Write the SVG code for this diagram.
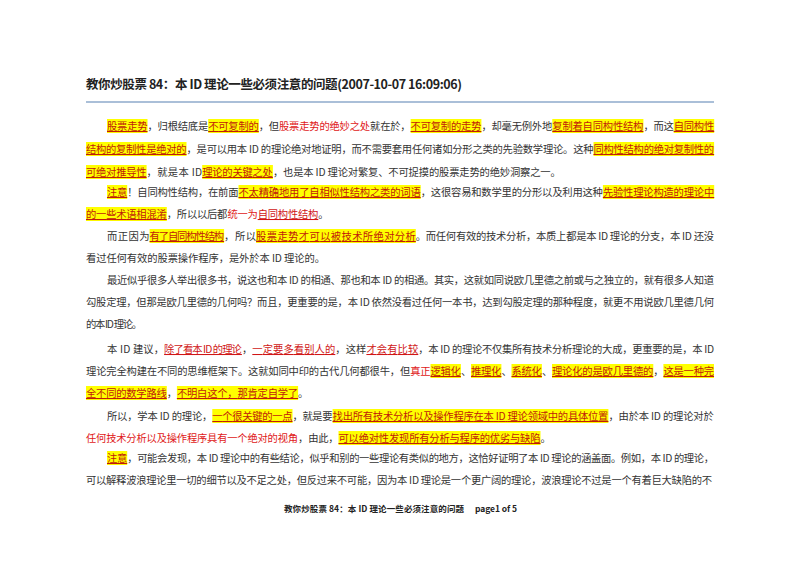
<svg xmlns="http://www.w3.org/2000/svg" width="800" height="566" viewBox="0 0 800 566">
<style>
text{font-family:"Noto Sans CJK SC","Liberation Sans",sans-serif;font-size:10.3px;fill:#333}
.h{fill:#c01a0a;text-decoration:underline}
.r{fill:#e01818}
.ru{fill:#d01515;text-decoration:underline}
.t{font-size:12.5px;font-weight:bold;fill:#222}
.f{font-size:8.5px;font-weight:bold;fill:#222}
rect.y{fill:#ffff00}
</style>
<rect width="800" height="566" fill="#fff"/>
<g id="title"><text class="t" x="86" y="89" textLength="376">教你炒股票 84：本 ID 理论一些必须注意的问题(2007-10-07 16:09:06)</text>
<line x1="86" y1="102" x2="714" y2="102" stroke="#8eaacb" stroke-width="1.5"/></g>
<g id="hl">
<rect class="y" x="107" y="119" width="40.5" height="14"/>
<rect class="y" x="208.2" y="119" width="50.6" height="14"/>
<rect class="y" x="410.6" y="119" width="70.8" height="14"/>
<rect class="y" x="552.3" y="119" width="91.1" height="14"/>
<rect class="y" x="673.7" y="119" width="40.5" height="14"/>
<rect class="y" x="86" y="142" width="100.5" height="14"/>
<rect class="y" x="593.5" y="142" width="120.6" height="14"/>
<rect class="y" x="86" y="165" width="60.6" height="14"/>
<rect class="y" x="202.2" y="165" width="70.7" height="14"/>
<rect class="y" x="107" y="185" width="20.2" height="14"/>
<rect class="y" x="238.5" y="185" width="182.2" height="14"/>
<rect class="y" x="602.9" y="185" width="111.3" height="14"/>
<rect class="y" x="86" y="207" width="80.8" height="14"/>
<rect class="y" x="149.6" y="229" width="74.5" height="14"/>
<rect class="y" x="256.1" y="229" width="159.7" height="14"/>
<rect class="y" x="430.5" y="364" width="30.4" height="14"/>
<rect class="y" x="471" y="364" width="30.4" height="14"/>
<rect class="y" x="511.5" y="364" width="30.4" height="14"/>
<rect class="y" x="552" y="364" width="101.3" height="14"/>
<rect class="y" x="663.4" y="364" width="50.6" height="14"/>
<rect class="y" x="86" y="386" width="80.8" height="14"/>
<rect class="y" x="176.9" y="386" width="121.2" height="14"/>
<rect class="y" x="212.3" y="409" width="80.2" height="14"/>
<rect class="y" x="332.6" y="409" width="275.8" height="14"/>
<rect class="y" x="338.5" y="431" width="202" height="14"/>
<rect class="y" x="107" y="451" width="20.2" height="14"/>
</g>
<g id="body">
<text class="h" x="107" y="130" textLength="40.5">股票走势</text>
<text x="147.5" y="130" textLength="60.7">，归根结底是</text>
<text class="h" x="208.2" y="130" textLength="50.6">不可复制的</text>
<text x="258.8" y="130" textLength="20.2">，但</text>
<text class="r" x="279" y="130" textLength="91.1">股票走势的绝妙之处</text>
<text x="370.1" y="130" textLength="40.5">就在於，</text>
<text class="h" x="410.6" y="130" textLength="70.8">不可复制的走势</text>
<text x="481.4" y="130" textLength="70.8">，却毫无例外地</text>
<text class="h" x="552.3" y="130" textLength="91.1">复制着自同构性结构</text>
<text x="643.4" y="130" textLength="30.4">，而这</text>
<text class="h" x="673.7" y="130" textLength="40.5">自同构性</text>

<text class="h" x="86" y="153" textLength="100.5">结构的复制性是绝对的</text>
<text x="186.5" y="153" textLength="407">，是可以用本 ID 的理论绝对地证明，而不需要套用任何诸如分形之类的先验数学理论。这种</text>
<text class="h" x="593.5" y="153" textLength="120.6">同构性结构的绝对复制性的</text>

<text class="h" x="86" y="176" textLength="60.6">可绝对推导性</text>
<text x="146.6" y="176" textLength="55.5">，就是本 ID </text>
<text class="h" x="202.2" y="176" textLength="70.7">理论的关键之处</text>
<text x="272.9" y="176" textLength="287.9">，也是本 ID 理论对繁复、不可捉摸的股票走势的绝妙洞察之一。</text>

<text class="h" x="107" y="196" textLength="20.2">注意</text>
<text x="127.2" y="196" textLength="111.3">！自同构性结构，在前面</text>
<text class="h" x="238.5" y="196" textLength="182.2">不太精确地用了自相似性结构之类的词语</text>
<text x="420.7" y="196" textLength="182.2">，这很容易和数学里的分形以及利用这种</text>
<text class="h" x="602.9" y="196" textLength="111.3">先验性理论构造的理论中</text>

<text class="h" x="86" y="218" textLength="80.8">的一些术语相混淆</text>
<text x="166.8" y="218" textLength="60.6">，所以以后都</text>
<text class="r" x="227.4" y="218" textLength="30.3">统一为</text>
<text class="ru" x="257.7" y="218" textLength="60.6">自同构性结构</text>
<text x="318.3" y="218">。</text>

<text x="107" y="240" textLength="42.6">而正因为</text>
<text class="h" x="149.6" y="240" textLength="74.5">有了自同构性结构</text>
<text x="224.1" y="240" textLength="32">，所以</text>
<text class="h" x="256.1" y="240" textLength="159.7">股票走势才可以被技术所绝对分析</text>
<text x="415.8" y="240" textLength="298.2">。而任何有效的技术分析，本质上都是本 ID 理论的分支，本 ID 还没</text>
<text x="86" y="262" textLength="239">看过任何有效的股票操作程序，是外於本 ID 理论的。</text>

<text x="107" y="284" textLength="607">最近似乎很多人举出很多书，说这也和本 ID 的相通、那也和本 ID 的相通。其实，这就如同说欧几里德之前或与之独立的，就有很多人知道</text>
<text x="86" y="306" textLength="628">勾股定理，但那是欧几里德的几何吗？而且，更重要的是，本 ID 依然没看过任何一本书，达到勾股定理的那种程度，就更不用说欧几里德几何</text>
<text x="86" y="328" textLength="56">的本 ID 理论。</text>

<text x="107" y="353" textLength="57.1">本 ID 建议，</text>
<text class="ru" x="164.1" y="353" textLength="77.8">除了看本 ID 的理论</text>
<text x="241.9" y="353" textLength="10.4">，</text>
<text class="ru" x="252.3" y="353" textLength="83">一定要多看别人的</text>
<text x="335.3" y="353" textLength="31.1">，这样</text>
<text class="ru" x="366.4" y="353" textLength="51.9">才会有比较</text>
<text x="418.3" y="353" textLength="295.8">，本 ID 的理论不仅集所有技术分析理论的大成，更重要的是，本 ID</text>

<text x="86" y="375" textLength="324.2">理论完全构建在不同的思维框架下。这就如同中印的古代几何都很牛，但</text>
<text class="r" x="410.2" y="375" textLength="20.3">真正</text>
<text class="h" x="430.5" y="375" textLength="30.4">逻辑化</text>
<text x="460.9" y="375" textLength="10.1">、</text>
<text class="h" x="471" y="375" textLength="30.4">推理化</text>
<text x="501.4" y="375" textLength="10.1">、</text>
<text class="h" x="511.5" y="375" textLength="30.4">系统化</text>
<text x="541.9" y="375" textLength="10.1">、</text>
<text class="h" x="552" y="375" textLength="101.3">理论化的是欧几里德的</text>
<text x="653.3" y="375" textLength="10.1">，</text>
<text class="h" x="663.4" y="375" textLength="50.6">这是一种完</text>

<text class="h" x="86" y="397" textLength="80.8">全不同的数学路线</text>
<text x="166.8" y="397" textLength="10.1">，</text>
<text class="h" x="176.9" y="397" textLength="121.2">不明白这个，那肯定自学了</text>
<text x="298.1" y="397">。</text>

<text x="107" y="420" textLength="105.3">所以，学本 ID 的理论，</text>
<text class="h" x="212.3" y="420" textLength="80.2">一个很关键的一点</text>
<text x="292.5" y="420" textLength="40.1">，就是要</text>
<text class="h" x="332.6" y="420" textLength="275.8">找出所有技术分析以及操作程序在本 ID 理论领域中的具体位置</text>
<text x="608.4" y="420" textLength="105.3">，由於本 ID 的理论对於</text>

<text class="r" x="86" y="442" textLength="212.1">任何技术分析以及操作程序具有一个绝对的视角</text>
<text x="298.1" y="442" textLength="40.4">，由此，</text>
<text class="h" x="338.5" y="442" textLength="202">可以绝对性发现所有分析与程序的优劣与缺陷</text>
<text x="540.5" y="442">。</text>

<text class="h" x="107" y="462" textLength="20.2">注意</text>
<text x="127.2" y="462" textLength="586.8">，可能会发现，本 ID 理论中的有些结论，似乎和别的一些理论有类似的地方，这恰好证明了本 ID 理论的涵盖面。例如，本 ID 的理论，</text>
<text x="86" y="484" textLength="626">可以解释波浪理论里一切的细节以及不足之处，但反过来不可能，因为本 ID 理论是一个更广阔的理论，波浪理论不过是一个有着巨大缺陷的不</text>
</g>
<g id="footer">
<text class="f" x="284" y="512" textLength="180">教你炒股票 84：本 ID 理论一些必须注意的问题</text>
<text class="f" x="475" y="512" textLength="42">page1 of 5</text>
</g>
</svg>
